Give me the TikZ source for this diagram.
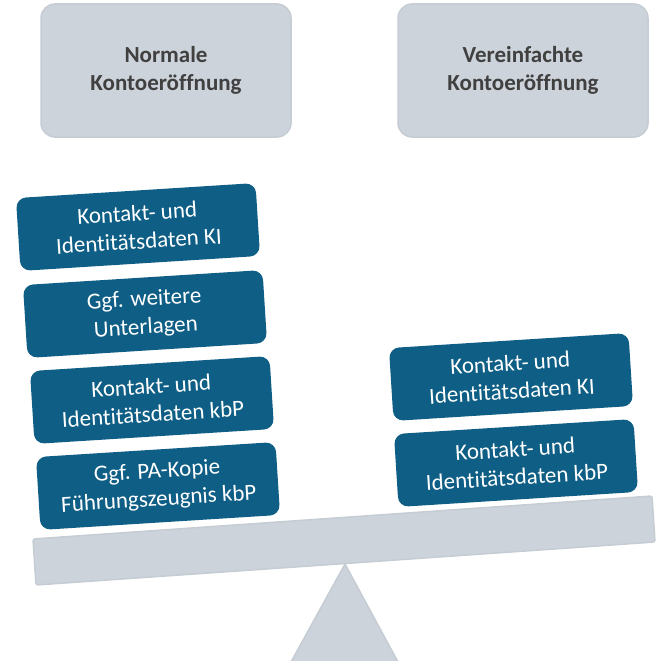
\documentclass[tikz,border=0pt]{standalone}
\usepackage{fontspec}
\setmainfont{Carlito}[Ligatures=NoCommon]
\definecolor{boxgray}{HTML}{CDD3DA}
\definecolor{boxgrayedge}{HTML}{C5CCD3}
\definecolor{boxblue}{HTML}{0E5E85}
\definecolor{textgray}{HTML}{404040}
\begin{document}
\begin{tikzpicture}[x=1pt,y=-1pt,
  headbox/.style={draw=boxgrayedge, line width=1.5pt, fill=boxgray, rounded corners=14pt,
    minimum width=250pt, minimum height=133pt, align=center,
    font=\fontsize{23}{28}\selectfont\bfseries, text=textgray, inner sep=0pt},
  docbox/.style={fill=boxblue, rounded corners=10pt, minimum width=240pt, minimum height=73pt,
    align=center, font=\fontsize{23}{28}\selectfont, text=white, rotate=3.6, inner sep=0pt},
  support/.style={fill=boxgray, draw=boxgrayedge, line width=1.5pt, line join=round}]
\useasboundingbox (0,0) rectangle (659,661);
% headers
\node[headbox] (normal) at (166,70.5) {Normale\\Kontoeröffnung};
\node[headbox] (simple) at (523,70.5) {Vereinfachte\\Kontoeröffnung};
% scale support and beam
\draw[support] (345,564) -- (398,662) -- (291,662) -- cycle;
\draw[support, rounded corners=2pt] (33,539) -- (652,496) -- (655,542) -- (36,585) -- cycle;
% left stack
\node[docbox] (l1) at (138,227) {Kontakt- und\\Identitätsdaten KI};
\node[docbox] (l2) at (145,314) {Ggf. weitere\\Unterlagen};
\node[docbox] (l3) at (152,400) {Kontakt- und\\Identitätsdaten kbP};
\node[docbox] (l4) at (158,486) {Ggf. PA-Kopie\\Führungszeugnis kbP};
% right stack
\node[docbox] (r1) at (511,377) {Kontakt- und\\Identitätsdaten KI};
\node[docbox] (r2) at (516,463) {Kontakt- und\\Identitätsdaten kbP};
\end{tikzpicture}
\end{document}
